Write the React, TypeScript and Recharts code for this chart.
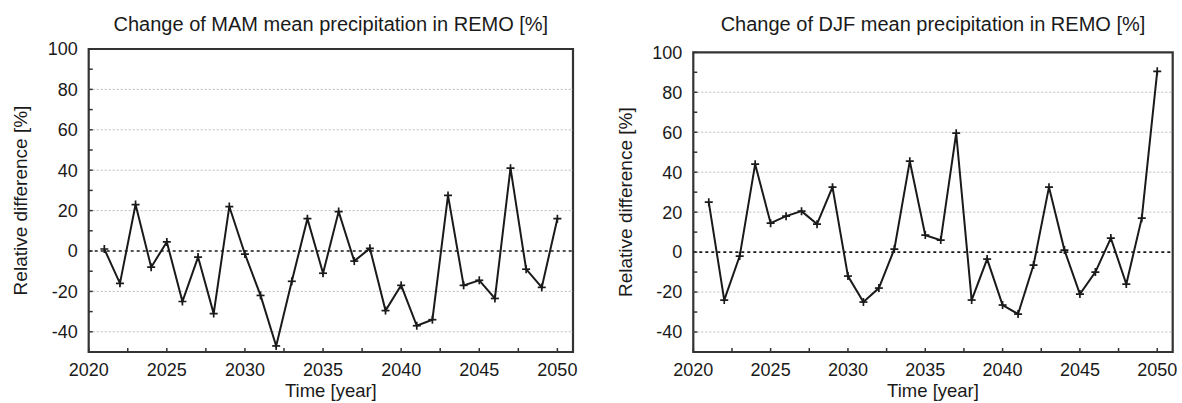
import React from 'react';
import { LineChart, Line, XAxis, YAxis, ReferenceLine, ReferenceArea, Label } from 'recharts';

const years = [2021, 2022, 2023, 2024, 2025, 2026, 2027, 2028, 2029, 2030, 2031, 2032, 2033, 2034, 2035,
  2036, 2037, 2038, 2039, 2040, 2041, 2042, 2043, 2044, 2045, 2046, 2047, 2048, 2049, 2050];

const mam = [1, -16, 23, -8, 4.5, -25, -3, -31, 22, -1.5, -22, -47, -15, 16, -11,
  19.5, -5, 1.3, -29.5, -17, -37, -34, 27.5, -17, -14.5, -23.5, 41, -9, -18, 16];

const djf = [25, -24, -2, 44, 14.5, 18, 20.5, 14, 32.5, -12, -25, -18, 1.5, 45.5, 8.5,
  6, 59.5, -24, -3.5, -26.5, -31, -6.5, 32.5, 1, -21, -10, 7, -16, 17, 90.5];

const xTicks = [2020, 2022.5, 2025, 2027.5, 2030, 2032.5, 2035, 2037.5, 2040, 2042.5, 2045, 2047.5, 2050];
const yTicks = [-40, -30, -20, -10, 0, 10, 20, 30, 40, 50, 60, 70, 80, 90, 100];
const gridY = [-40, -20, 20, 40, 60, 80];

const FONT = '"Liberation Sans", Arial, Helvetica, sans-serif';
const INK = '#1a1a1a';
const FRAME = '#333';

const Plus = (props: any) => {
  const { cx, cy } = props;
  if (cx == null || cy == null) return null;
  return (
    <g>
      <line x1={cx - 4} y1={cy} x2={cx + 4} y2={cy} stroke={INK} strokeWidth={1.7} />
      <line x1={cx} y1={cy - 4} x2={cx} y2={cy + 4} stroke={INK} strokeWidth={1.7} />
    </g>
  );
};

function Panel({ title, values, left, width, margin, labelOffset }: any) {
  const data = years.map((y, i) => ({ year: y, v: values[i] }));
  const tickStyle = { fontSize: 18, fill: INK, fontFamily: FONT };
  const plotCenter = left + margin.left + 80 + (width - margin.left - margin.right - 80) / 2;
  return (
    <>
      <div style={{
        position: 'absolute', top: 12, left: plotCenter - 300, width: 600, textAlign: 'center',
        fontFamily: FONT, fontSize: 20, lineHeight: '24px', color: INK,
      }}>{title}</div>
      <div style={{ position: 'absolute', left, top: 0 }}>
        <LineChart width={width} height={403} data={data} margin={margin}>
          <XAxis dataKey="year" type="number" domain={[2020, 2051]} ticks={xTicks} allowDataOverflow
            axisLine={false} tickSize={-4} tickMargin={15} height={50}
            tickLine={{ stroke: FRAME, strokeWidth: 1.5 }} tick={tickStyle}
            tickFormatter={(t: number) => (t % 5 === 0 ? String(t) : '')}>
            <Label value="Time [year]" position="insideBottom" offset={5}
              style={{ fontSize: 18.5, fill: INK, fontFamily: FONT }} />
          </XAxis>
          <YAxis type="number" domain={[-50, 100]} ticks={yTicks} allowDataOverflow width={80}
            axisLine={false} tickSize={-4} tickMargin={15}
            tickLine={{ stroke: FRAME, strokeWidth: 1.5 }} tick={tickStyle}
            tickFormatter={(t: number) => (t % 20 === 0 ? String(t) : '')}>
            <Label value="Relative difference [%]" angle={-90} position="insideLeft" offset={labelOffset}
              style={{ fontSize: 19, fill: INK, fontFamily: FONT, textAnchor: 'middle' }} />
          </YAxis>
          {gridY.map(g => (
            <ReferenceLine key={g} y={g} stroke="#bbb" strokeWidth={1} strokeDasharray="2 2" />
          ))}
          <ReferenceLine y={0} stroke={INK} strokeWidth={1.7} strokeDasharray="3 3" />
          <ReferenceArea x1={2020} x2={2051} y1={-50} y2={100} fill="none" stroke={FRAME} strokeWidth={2.2} />
          <Line dataKey="v" stroke={INK} strokeWidth={2} dot={<Plus />} activeDot={false}
            isAnimationActive={false} />
        </LineChart>
      </div>
    </>
  );
}

export default function App() {
  return (
    <div style={{ position: 'absolute', left: 0, top: 0, width: 1182, height: 403, background: '#fff' }}>
      <Panel title="Change of MAM mean precipitation in REMO [%]" values={mam} left={0} width={600}
        margin={{ top: 49, right: 27, bottom: 1, left: 8.7 }} labelOffset={11.3} />
      <Panel title="Change of DJF mean precipitation in REMO [%]" values={djf} left={600} width={582}
        margin={{ top: 52.3, right: 9.3, bottom: 1, left: 13.3 }} labelOffset={11.7} />
    </div>
  );
}
